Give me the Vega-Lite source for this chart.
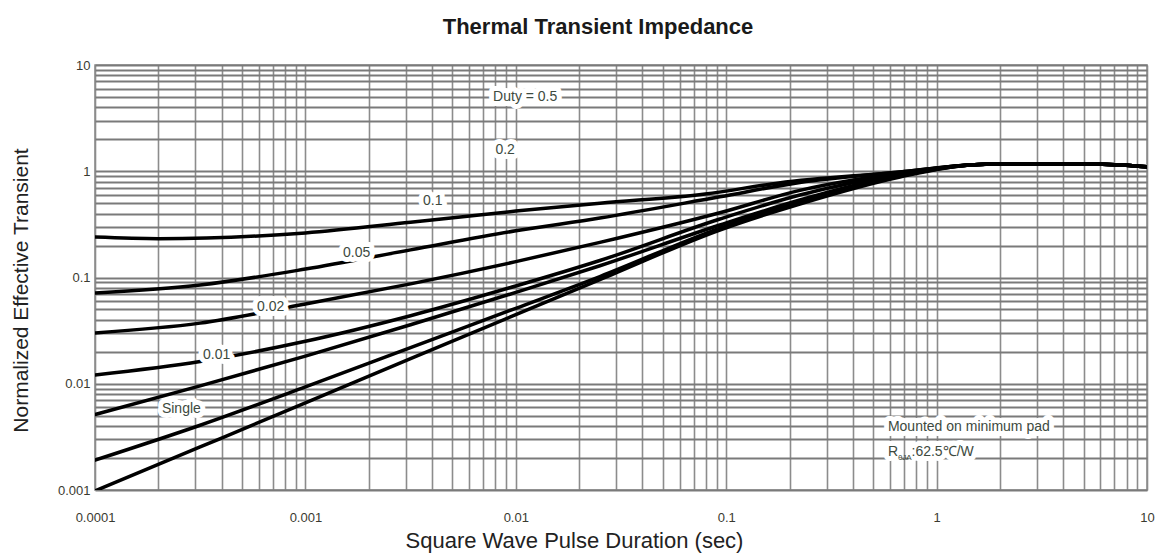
{
  "$schema": "https://vega.github.io/schema/vega-lite/v6.json",
  "autosize": {"type": "none"},
  "width": 1052,
  "height": 425,
  "padding": {"left": 95, "top": 65, "right": 15, "bottom": 69},
  "background": "white",
  "config": {
    "font": "Liberation Sans",
    "view": {"stroke": "#8a8a8a", "strokeWidth": 1.5}
  },
  "title": {
    "text": "Thermal Transient Impedance",
    "font": "Liberation Sans",
    "fontSize": 22,
    "fontWeight": "bold",
    "color": "#1a1a1a",
    "anchor": "middle",
    "dx": -23,
    "offset": 20
  },
  "datasets": {
    "curves": [
      {"curve": "c1", "t": 0.0001, "z": 0.240},
      {"curve": "c1", "t": 0.0002, "z": 0.232},
      {"curve": "c1", "t": 0.001, "z": 0.263},
      {"curve": "c1", "t": 0.00316, "z": 0.331},
      {"curve": "c1", "t": 0.01, "z": 0.422},
      {"curve": "c1", "t": 0.0251, "z": 0.501},
      {"curve": "c1", "t": 0.0794, "z": 0.610},
      {"curve": "c1", "t": 0.178, "z": 0.776},
      {"curve": "c1", "t": 0.67, "z": 0.984},
      {"curve": "c1", "t": 1.44, "z": 1.145},
      {"curve": "c1", "t": 2.0, "z": 1.17},
      {"curve": "c1", "t": 5.5, "z": 1.17},
      {"curve": "c1", "t": 10, "z": 1.10},

      {"curve": "c2", "t": 0.0001, "z": 0.0714},
      {"curve": "c2", "t": 0.000316, "z": 0.0851},
      {"curve": "c2", "t": 0.001, "z": 0.120},
      {"curve": "c2", "t": 0.00316, "z": 0.182},
      {"curve": "c2", "t": 0.01, "z": 0.275},
      {"curve": "c2", "t": 0.0251, "z": 0.363},
      {"curve": "c2", "t": 0.0933, "z": 0.575},
      {"curve": "c2", "t": 0.224, "z": 0.785},
      {"curve": "c2", "t": 0.67, "z": 0.984},
      {"curve": "c2", "t": 1.44, "z": 1.145},
      {"curve": "c2", "t": 2.0, "z": 1.17},
      {"curve": "c2", "t": 5.5, "z": 1.17},
      {"curve": "c2", "t": 10, "z": 1.10},

      {"curve": "c3", "t": 0.0001, "z": 0.0301},
      {"curve": "c3", "t": 0.000316, "z": 0.0372},
      {"curve": "c3", "t": 0.001, "z": 0.0562},
      {"curve": "c3", "t": 0.00316, "z": 0.0871},
      {"curve": "c3", "t": 0.01, "z": 0.141},
      {"curve": "c3", "t": 0.0251, "z": 0.214},
      {"curve": "c3", "t": 0.0933, "z": 0.407},
      {"curve": "c3", "t": 0.224, "z": 0.661},
      {"curve": "c3", "t": 0.67, "z": 0.963},
      {"curve": "c3", "t": 1.44, "z": 1.145},
      {"curve": "c3", "t": 2.0, "z": 1.17},
      {"curve": "c3", "t": 5.5, "z": 1.17},
      {"curve": "c3", "t": 10, "z": 1.10},

      {"curve": "c4", "t": 0.0001, "z": 0.0121},
      {"curve": "c4", "t": 0.000316, "z": 0.0162},
      {"curve": "c4", "t": 0.001, "z": 0.0251},
      {"curve": "c4", "t": 0.00316, "z": 0.0437},
      {"curve": "c4", "t": 0.01, "z": 0.0832},
      {"curve": "c4", "t": 0.0251, "z": 0.1445},
      {"curve": "c4", "t": 0.0933, "z": 0.355},
      {"curve": "c4", "t": 0.224, "z": 0.597},
      {"curve": "c4", "t": 0.67, "z": 0.942},
      {"curve": "c4", "t": 1.44, "z": 1.145},
      {"curve": "c4", "t": 2.0, "z": 1.17},
      {"curve": "c4", "t": 5.5, "z": 1.17},
      {"curve": "c4", "t": 10, "z": 1.10},

      {"curve": "c5", "t": 0.0001, "z": 0.00513},
      {"curve": "c5", "t": 0.000316, "z": 0.00955},
      {"curve": "c5", "t": 0.001, "z": 0.0182},
      {"curve": "c5", "t": 0.00316, "z": 0.0359},
      {"curve": "c5", "t": 0.01, "z": 0.0724},
      {"curve": "c5", "t": 0.0251, "z": 0.129},
      {"curve": "c5", "t": 0.0933, "z": 0.312},
      {"curve": "c5", "t": 0.224, "z": 0.536},
      {"curve": "c5", "t": 0.67, "z": 0.922},
      {"curve": "c5", "t": 1.44, "z": 1.145},
      {"curve": "c5", "t": 2.0, "z": 1.17},
      {"curve": "c5", "t": 5.5, "z": 1.17},
      {"curve": "c5", "t": 10, "z": 1.10},

      {"curve": "c6", "t": 0.0001, "z": 0.00191},
      {"curve": "c6", "t": 0.000316, "z": 0.00407},
      {"curve": "c6", "t": 0.001, "z": 0.00933},
      {"curve": "c6", "t": 0.00316, "z": 0.0219},
      {"curve": "c6", "t": 0.01, "z": 0.0513},
      {"curve": "c6", "t": 0.0251, "z": 0.102},
      {"curve": "c6", "t": 0.0933, "z": 0.292},
      {"curve": "c6", "t": 0.224, "z": 0.514},
      {"curve": "c6", "t": 0.67, "z": 0.902},
      {"curve": "c6", "t": 1.44, "z": 1.145},
      {"curve": "c6", "t": 2.0, "z": 1.17},
      {"curve": "c6", "t": 5.5, "z": 1.17},
      {"curve": "c6", "t": 10, "z": 1.10},

      {"curve": "c7", "t": 0.0001, "z": 0.00098},
      {"curve": "c7", "t": 0.000316, "z": 0.00254},
      {"curve": "c7", "t": 0.001, "z": 0.0066},
      {"curve": "c7", "t": 0.00316, "z": 0.0172},
      {"curve": "c7", "t": 0.01, "z": 0.0447},
      {"curve": "c7", "t": 0.0251, "z": 0.0955},
      {"curve": "c7", "t": 0.0933, "z": 0.280},
      {"curve": "c7", "t": 0.224, "z": 0.492},
      {"curve": "c7", "t": 0.67, "z": 0.883},
      {"curve": "c7", "t": 1.44, "z": 1.145},
      {"curve": "c7", "t": 2.0, "z": 1.17},
      {"curve": "c7", "t": 5.5, "z": 1.17},
      {"curve": "c7", "t": 10, "z": 1.10}
    ],
    "labels": [
      {"t": 0.0078, "z": 5.0, "text": "Duty =  0.5"},
      {"t": 0.0080, "z": 1.58, "text": "0.2"},
      {"t": 0.00362, "z": 0.525, "text": "0.1"},
      {"t": 0.00151, "z": 0.170, "text": "0.05"},
      {"t": 0.000589, "z": 0.0528, "text": "0.02"},
      {"t": 0.000326, "z": 0.01866, "text": "0.01"},
      {"t": 0.000208, "z": 0.00578, "text": "Single"},
      {"t": 0.587, "z": 0.00392, "text": "Mounted on minimum pad"},
      {"t": 0.587, "z": 0.00228, "text": "R"},
      {"t": 0.76, "z": 0.00228, "text": ":62.5\u2103/W"}
    ]
  },
  "encoding": {
    "x": {
      "field": "t",
      "type": "quantitative",
      "scale": {"type": "log", "domain": [0.0001, 10], "nice": false},
      "axis": {
        "title": "Square Wave Pulse Duration (sec)",
        "titleFont": "Liberation Sans",
        "titleFontSize": 22,
        "titleFontWeight": "normal",
        "titleColor": "#222222",
        "titleX": 479,
        "titlePadding": 6,
        "values": [0.0001, 0.0002, 0.0003, 0.0004, 0.0005, 0.0006, 0.0007, 0.0008, 0.0009,
                   0.001, 0.002, 0.003, 0.004, 0.005, 0.006, 0.007, 0.008, 0.009,
                   0.01, 0.02, 0.03, 0.04, 0.05, 0.06, 0.07, 0.08, 0.09,
                   0.1, 0.2, 0.3, 0.4, 0.5, 0.6, 0.7, 0.8, 0.9,
                   1, 2, 3, 4, 5, 6, 7, 8, 9, 10],
        "labelExpr": "indexof([0.0001, 0.001, 0.01, 0.1, 1, 10], datum.value) >= 0 ? '' + datum.value : ''",
        "labelFontSize": 13,
        "labelColor": "#3a3a30",
        "labelPadding": 21,
        "labelOverlap": false,
        "labelFlush": false,
        "ticks": false,
        "domain": false,
        "grid": true,
        "gridColor": "#8c8c8c",
        "gridWidth": 1.6,
        "gridOpacity": 1
      }
    },
    "y": {
      "field": "z",
      "type": "quantitative",
      "scale": {"type": "log", "domain": [0.001, 10], "nice": false},
      "axis": {
        "title": "Normalized Effective Transient",
        "titleFont": "Liberation Sans",
        "titleFontSize": 21,
        "titleFontWeight": "normal",
        "titleColor": "#222222",
        "titleY": 225,
        "titlePadding": 26,
        "values": [0.001, 0.002, 0.003, 0.004, 0.005, 0.006, 0.007, 0.008, 0.009,
                   0.01, 0.02, 0.03, 0.04, 0.05, 0.06, 0.07, 0.08, 0.09,
                   0.1, 0.2, 0.3, 0.4, 0.5, 0.6, 0.7, 0.8, 0.9,
                   1, 2, 3, 4, 5, 6, 7, 8, 9, 10],
        "labelExpr": "indexof([0.001, 0.01, 0.1, 1, 10], datum.value) >= 0 ? '' + datum.value : ''",
        "labelFontSize": 13,
        "labelColor": "#3a3a30",
        "labelPadding": 5,
        "labelOverlap": false,
        "labelFlush": false,
        "ticks": false,
        "domain": false,
        "grid": true,
        "gridColor": "#7a7a7a",
        "gridWidth": 1.8,
        "gridOpacity": 1
      }
    }
  },
  "layer": [
    {
      "data": {"name": "curves"},
      "mark": {"type": "line", "color": "black", "strokeWidth": 3.5, "interpolate": "monotone", "strokeCap": "round", "clip": true},
      "encoding": {"detail": {"field": "curve"}}
    },
    {
      "data": {"name": "labels"},
      "mark": {"type": "text", "align": "left", "baseline": "middle", "fontSize": 14, "fill": "white", "stroke": "white", "strokeWidth": 10, "strokeJoin": "round"},
      "encoding": {"text": {"field": "text"}}
    },
    {
      "data": {"name": "labels"},
      "mark": {"type": "text", "align": "left", "baseline": "middle", "fontSize": 14, "color": "#3d4a40"},
      "encoding": {"text": {"field": "text"}}
    },
    {
      "data": {"name": "labels"},
      "transform": [{"filter": "datum.text == 'R'"}],
      "mark": {"type": "text", "align": "left", "baseline": "middle", "fontSize": 8, "dx": 10, "dy": 6, "color": "#3d4a40"},
      "encoding": {"text": {"value": "\u03b8JA"}}
    }
  ]
}
